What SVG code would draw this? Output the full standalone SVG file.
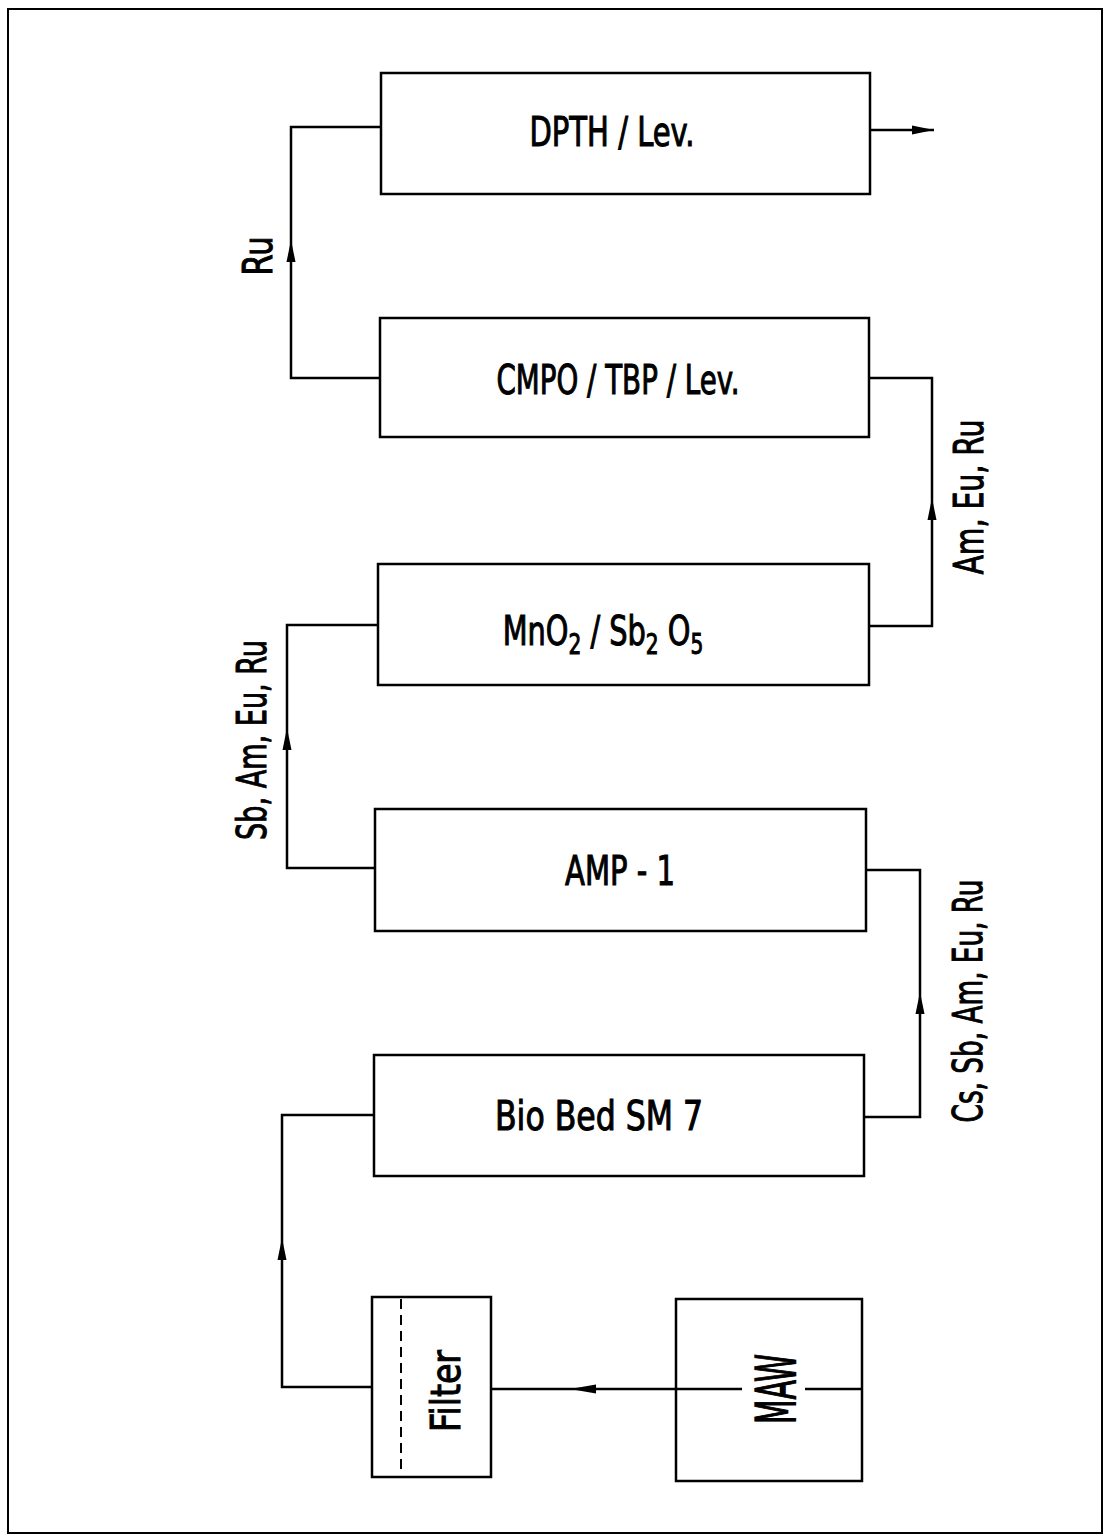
<svg xmlns="http://www.w3.org/2000/svg" width="1105" height="1539" viewBox="0 0 1105 1539">
<style>
.box{fill:none;stroke:#000;stroke-width:2.5}
.ln{fill:none;stroke:#000;stroke-width:2.5}
.t{font-family:"DejaVu Sans Condensed","DejaVu Sans",sans-serif;font-size:40px;fill:#000;stroke:#000;stroke-width:1;text-anchor:middle}
.s{font-size:28px}
</style>
<defs>
<marker id="a" viewBox="0 0 22 11" refX="22" refY="5.5" markerWidth="22" markerHeight="11" markerUnits="userSpaceOnUse" orient="auto">
<path d="M0,1 L22,5.5 L0,10 z" fill="#000"/>
</marker>
</defs>
<rect x="8" y="9" width="1094" height="1524" fill="#fff" stroke="#000" stroke-width="2"/>
<g id="dpth">
<rect class="box" x="381" y="73" width="489" height="121"/>
<text class="t" x="612" y="146" textLength="165" lengthAdjust="spacingAndGlyphs">DPTH / Lev.</text>
</g>
<g id="cmpo">
<rect class="box" x="380" y="318" width="489" height="119"/>
<text class="t" x="618" y="394" textLength="243" lengthAdjust="spacingAndGlyphs">CMPO / TBP / Lev.</text>
</g>
<g id="mno2">
<rect class="box" x="378" y="564" width="491" height="121"/>
<text class="t" transform="translate(603 645) scale(0.8 1)" x="0" y="0">MnO<tspan class="s" dy="9">2</tspan><tspan dy="-9"> / Sb</tspan><tspan class="s" dy="9">2</tspan><tspan dy="-9"> O</tspan><tspan class="s" dy="9">5</tspan></text>
</g>
<g id="amp1">
<rect class="box" x="375" y="809" width="491" height="122"/>
<text class="t" x="620" y="885" textLength="110" lengthAdjust="spacingAndGlyphs">AMP - 1</text>
</g>
<g id="biobed">
<rect class="box" x="374" y="1055" width="490" height="121"/>
<text class="t" x="599" y="1130" textLength="208" lengthAdjust="spacingAndGlyphs">Bio Bed SM 7</text>
</g>
<g id="filter">
<rect class="box" x="372" y="1297" width="119" height="180"/>
<line x1="401" y1="1299" x2="401" y2="1475" stroke="#000" stroke-width="2" stroke-dasharray="10,6"/>
<text class="t" transform="rotate(-90 460 1391)" x="460" y="1391" textLength="82" lengthAdjust="spacingAndGlyphs">Filter</text>
</g>
<g id="maw">
<rect class="box" x="676" y="1299" width="186" height="182"/>
<text class="t" style="font-size:56px;stroke-width:1.4" transform="rotate(-90 795 1389)" x="795" y="1389" textLength="70" lengthAdjust="spacingAndGlyphs">MAW</text>
</g>
<g id="connectors">
<path class="ln" d="M372,1387 H282 V1238" marker-end="url(#a)"/>
<path class="ln" d="M282,1238 V1115 H374"/>
<path class="ln" d="M864,1117 H920 V992" marker-end="url(#a)"/>
<path class="ln" d="M920,992 V870 H866"/>
<path class="ln" d="M375,868 H287 V728" marker-end="url(#a)"/>
<path class="ln" d="M287,728 V625 H378"/>
<path class="ln" d="M869,626 H932 V498" marker-end="url(#a)"/>
<path class="ln" d="M932,498 V378 H869"/>
<path class="ln" d="M380,378 H291 V240" marker-end="url(#a)"/>
<path class="ln" d="M291,240 V127 H381"/>
<path class="ln" d="M870,130 H934" marker-end="url(#a)"/>
<path class="ln" d="M862,1389 H805 M742,1389 H596"/>
<path class="ln" d="M596,1389 H491"/>
<path d="M570,1389 L596,1384.5 L596,1393.5 z" fill="#000"/>
<text class="t" transform="rotate(-90 272 256)" x="272" y="256" textLength="39" lengthAdjust="spacingAndGlyphs">Ru</text>
<text class="t" transform="rotate(-90 266 740)" x="266" y="740" textLength="200" lengthAdjust="spacingAndGlyphs">Sb, Am, Eu, Ru</text>
<text class="t" transform="rotate(-90 983 497)" x="983" y="497" textLength="155" lengthAdjust="spacingAndGlyphs">Am, Eu, Ru</text>
<text class="t" transform="rotate(-90 982 1001)" x="982" y="1001" textLength="243" lengthAdjust="spacingAndGlyphs">Cs, Sb, Am, Eu, Ru</text>
</g>
</svg>
